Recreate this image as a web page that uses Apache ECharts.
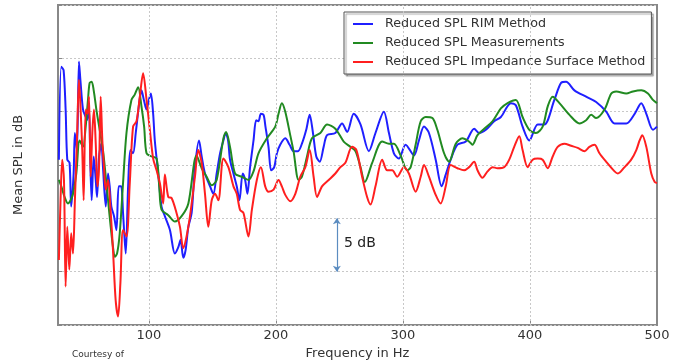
<!DOCTYPE html>
<html>
<head>
<meta charset="utf-8">
<script src="https://cdn.jsdelivr.net/npm/echarts@6/dist/echarts.min.js"></script>
<style>
  html, body { margin: 0; padding: 0; background: #fff; }
  #chart { width: 673px; height: 362px; }
</style>
</head>
<body>
<div id="chart"></div>
<script>
const seriesNames = ["Reduced SPL RIM Method", "Reduced SPL Measurements", "Reduced SPL Impedance Surface Method"];
const freqTicks = [100, 200, 300, 400, 500];
const gridFreqs = [100, 200, 300, 400];
const scaleBar = [248, 5, 10]; // freq, from dB, to dB

// RIM method (blue)
const rimFreq = [29.2, 31.1, 32.9, 34.5, 35.8, 37.6, 38.9, 40.8, 41.8, 43.4, 45.0, 46.3, 48.2, 50.3, 51.3, 52.9, 53.9, 55.0, 56.6, 58.2,
  59.2, 60.8, 62.6, 63.9, 66.1, 67.9, 69.2, 70.5, 72.6, 74.5, 76.3, 78.2, 79.7, 81.8, 83.7, 85.5, 87.6, 89.7, 92.4, 94.2,
  96.1, 98.2, 100, 101.6, 103.4, 104.7, 107.4, 110.0, 112.6, 116.6, 120.5, 123.2, 125.0, 127.1, 128.9, 131.1, 133.7, 136.3, 139.5, 141.6,
  144.2, 148.2, 150.8, 153.4, 156.1, 158.7, 160.5, 162.4, 163.9, 166.6, 169.2, 171.3, 173.9, 175.8, 177.6, 179.7, 182.4, 184.5, 186.3, 188.2,
  190.3, 191.8, 194.2, 196.3, 198.7, 200.8, 203.4, 207.4, 210.8, 214.0, 217.4, 220.5, 223.9, 226.6, 229.2, 231.8, 234.5, 237.6, 240.3, 246.8,
  252.1, 256.1, 261.3, 266.6, 273.2, 278.4, 285.0, 289.0, 292.9, 296.8, 302.1, 308.7, 312.6, 316.6, 320.5, 325.8, 330.5, 333.7, 337.6, 342.9,
  349.5, 356.1, 360.0, 365.3, 371.8, 377.1, 385.0, 388.9, 394.2, 399.5, 406.1, 411.3, 419.2, 424.5, 428.4, 435.0, 444.2, 452.1, 460.0, 466.6,
  475.8, 482.4, 487.6, 491.6, 496.8, 500];
const rimSpl = [15.5, 24.2, 23.9, 20.2, 15.5, 15.2, 11.1, 14.2, 18.0, 16.4, 24.7, 22.7, 20.2, 19.5, 19.2, 20.2, 15.5, 11.7, 15.8, 13.6,
  12.0, 15.8, 17.0, 14.8, 11.1, 14.2, 13.0, 11.1, 10.2, 8.9, 13.0, 13.0, 10.5, 6.7, 13.0, 16.4, 16.1, 18.0, 20.8, 22.0,
  21.1, 20.2, 21.1, 21.7, 19.8, 17.3, 14.2, 11.1, 10.2, 8.9, 6.7, 7.3, 8.0, 6.3, 7.0, 9.2, 10.5, 14.8, 17.3, 15.8,
  14.2, 13.0, 12.3, 14.2, 16.1, 17.3, 18.0, 17.3, 15.5, 14.2, 13.0, 11.7, 14.2, 13.6, 12.3, 14.8, 17.3, 19.2, 19.1, 19.8,
  19.7, 18.6, 16.7, 14.5, 14.8, 16.1, 16.9, 17.5, 16.9, 16.3, 16.3, 17.0, 18.3, 19.7, 18.0, 15.8, 15.3, 16.7, 17.8, 18.0,
  18.9, 18.1, 19.8, 18.8, 16.3, 18.0, 20.0, 18.0, 16.1, 15.6, 16.9, 15.9, 17.3, 18.6, 18.0, 15.5, 13.0, 14.1, 15.5, 16.9,
  17.2, 18.4, 18.0, 18.3, 19.1, 19.5, 20.8, 20.6, 18.6, 17.3, 18.8, 18.8, 21.1, 22.7, 22.8, 22.0, 21.4, 20.9, 20.0, 18.9,
  18.9, 19.8, 20.8, 19.8, 18.3, 18.6];

// Measurements (green)
const measFreq = [29.2, 31.1, 33.7, 36.3, 38.4, 40.3, 42.9, 45.5, 48.2, 50.3, 52.1, 53.4, 55.0, 56.6, 58.7, 61.3, 63.9, 66.1, 67.9, 70.0,
  71.8, 73.2, 75.0, 77.1, 79.7, 82.4, 86.3, 88.9, 91.6, 94.2, 96.3, 98.2, 102.1, 106.1, 108.2, 110.0, 115.3, 120.5, 125.8, 131.1,
  137.6, 141.6, 145.5, 149.5, 153.4, 158.7, 160.8, 163.9, 167.9, 173.2, 178.4, 182.4, 186.3, 192.9, 199.5, 202.1, 204.7, 207.4, 211.3, 213.9,
  217.9, 220.5, 224.5, 228.4, 235.0, 240.3, 246.8, 253.4, 258.7, 262.6, 266.6, 270.0, 275.8, 283.7, 289.0, 292.9, 298.2, 303.4, 306.1, 310.0,
  314.0, 317.9, 323.2, 327.1, 332.4, 336.3, 341.6, 346.8, 352.1, 354.7, 358.7, 364.0, 370.5, 377.1, 382.4, 388.9, 394.2, 399.5, 404.7, 410.0,
  414.0, 417.9, 423.2, 431.1, 439.0, 444.2, 448.2, 452.1, 458.7, 464.0, 467.9, 475.8, 481.1, 487.6, 492.9, 496.8, 500];
const measSpl = [13.6, 13.0, 12.0, 11.4, 11.7, 12.3, 14.2, 17.3, 16.7, 18.6, 21.1, 22.7, 22.8, 22.0, 20.2, 18.3, 16.4, 13.9, 11.7, 9.2,
  7.3, 6.4, 6.7, 8.6, 13.3, 18.0, 21.1, 21.6, 22.3, 20.5, 18.6, 16.1, 15.8, 15.6, 13.0, 10.8, 10.3, 9.7, 10.2, 11.4,
  15.9, 14.7, 13.9, 13.1, 13.6, 17.5, 18.1, 16.7, 14.2, 13.9, 13.6, 14.4, 16.1, 17.5, 18.6, 19.8, 20.8, 20.0, 17.8, 16.3,
  13.6, 13.9, 15.8, 17.5, 18.0, 18.8, 18.4, 17.2, 16.7, 16.3, 14.8, 13.4, 15.2, 17.2, 17.0, 17.0, 15.9, 14.5, 14.8, 16.9,
  19.1, 19.5, 19.4, 18.3, 16.1, 15.3, 17.0, 17.5, 17.2, 16.9, 17.8, 18.4, 19.1, 20.3, 20.8, 21.1, 19.5, 18.3, 18.0, 18.6,
  20.5, 21.4, 20.8, 19.7, 18.9, 19.2, 19.7, 19.4, 20.2, 21.7, 21.9, 21.7, 21.9, 22.0, 21.7, 21.1, 20.8];

// Impedance surface method (red)
const impFreq = [29.2, 30.5, 31.8, 33.2, 34.5, 35.8, 37.4, 38.9, 40.3, 41.8, 43.4, 45.0, 46.3, 47.6, 48.7, 50.3, 51.8, 52.9, 54.2, 55.5,
  56.8, 58.2, 59.5, 60.8, 62.1, 63.4, 64.7, 66.1, 67.9, 69.7, 71.8, 73.9, 75.8, 77.6, 79.7, 82.4, 85.0, 87.6, 90.3, 92.9,
  95.5, 98.2, 100.8, 103.4, 106.1, 108.7, 111.3, 112.6, 115.3, 117.9, 121.8, 124.5, 127.1, 129.7, 132.4, 136.3, 138.9, 141.6, 144.2, 146.8,
  149.5, 152.1, 154.7, 158.7, 162.6, 166.6, 169.2, 171.8, 174.5, 178.4, 181.1, 185.0, 188.2, 191.6, 194.2, 198.2, 202.1, 204.7, 207.4, 211.3,
  215.3, 219.2, 223.2, 226.6, 229.7, 232.4, 236.3, 241.6, 246.8, 250.8, 254.7, 260.0, 263.4, 267.9, 271.8, 274.5, 278.4, 283.7, 287.6, 291.6,
  295.5, 300.8, 304.7, 310.0, 314.0, 316.6, 320.5, 325.8, 329.7, 333.7, 337.6, 342.9, 348.2, 352.1, 356.1, 358.7, 362.6, 366.6, 370.5, 374.5,
  379.7, 383.7, 387.6, 391.6, 394.2, 398.2, 402.1, 406.1, 410.0, 414.0, 417.9, 421.8, 427.1, 432.4, 437.6, 442.9, 446.8, 450.8, 454.7, 460.0,
  466.6, 469.2, 474.5, 479.7, 483.7, 486.3, 488.4, 491.6, 495.5, 498.2, 500];
const impSpl = [6.1, 11.7, 15.5, 13.6, 3.6, 9.2, 5.2, 8.6, 6.7, 11.7, 17.3, 23.0, 20.2, 16.4, 11.7, 20.2, 19.8, 21.4, 13.9, 18.0,
  20.2, 17.0, 13.0, 14.8, 21.4, 17.3, 14.8, 12.7, 13.6, 11.1, 7.0, 2.3, 0.8, 3.9, 8.9, 8.3, 13.3, 18.6, 19.1, 21.4,
  23.6, 21.1, 18.3, 15.6, 14.5, 13.3, 11.4, 14.1, 12.0, 11.9, 10.5, 9.2, 7.2, 8.3, 10.2, 13.9, 16.4, 15.2, 12.3, 9.2,
  11.7, 12.3, 11.7, 15.6, 14.8, 13.0, 12.3, 10.8, 10.5, 8.3, 10.8, 13.6, 14.8, 13.0, 12.5, 12.7, 13.6, 13.0, 12.2, 11.6,
  12.3, 13.9, 14.8, 16.4, 13.9, 12.0, 13.0, 13.6, 14.2, 14.8, 15.2, 16.7, 16.4, 13.9, 12.0, 11.3, 13.0, 15.5, 14.5, 14.5,
  13.9, 14.8, 14.2, 12.5, 13.9, 15.0, 13.9, 12.2, 11.4, 13.0, 15.0, 14.7, 14.5, 14.8, 15.3, 14.5, 13.8, 14.4, 14.8, 14.7,
  14.8, 15.5, 16.7, 17.7, 16.4, 14.8, 15.5, 15.6, 15.5, 14.7, 15.8, 16.7, 17.0, 16.8, 16.6, 16.3, 16.7, 16.9, 16.1, 15.3,
  14.4, 14.2, 14.8, 15.5, 16.4, 17.3, 17.8, 16.7, 14.2, 13.4, 13.3];

const zip = (xs, ys) => xs.map((x, i) => [x, ys[i]]);
const font = "DejaVu Sans";

const chart = echarts.init(document.getElementById("chart"));
chart.setOption({
  animation: false,
  backgroundColor: "#fff",
  grid: {
    left: 58, right: 16, top: 5, bottom: 37,
    outerBoundsMode: "none", containLabel: false,
    show: true, borderColor: "#888", borderWidth: 2
  },
  legend: {
    data: seriesNames,
    orient: "vertical",
    left: 344, top: 12,
    padding: [5, 6, 5, 9],
    icon: "rect",
    itemWidth: 20, itemHeight: 2, itemGap: 5,
    backgroundColor: "#fff",
    borderColor: "#555", borderWidth: 1,
    shadowColor: "rgba(0,0,0,0.35)", shadowOffsetX: 2, shadowOffsetY: 2, shadowBlur: 1,
    textStyle: { fontFamily: font, fontSize: 12.7, lineHeight: 14, color: "#333", padding: [0, 0, 0, 7] }
  },
  xAxis: {
    type: "value", min: 28.5, max: 500,
    name: "Frequency in Hz", nameLocation: "middle", nameGap: 22,
    nameTextStyle: { fontFamily: font, fontSize: 13, color: "#333" },
    axisLine: { show: false },
    axisTick: { show: true, inside: true, length: 4, customValues: freqTicks, lineStyle: { color: "#888" } },
    axisLabel: { customValues: freqTicks, fontFamily: font, fontSize: 13, color: "#333", margin: 4 },
    splitLine: { show: false }
  },
  yAxis: {
    type: "value", min: 0, max: 30, interval: 5,
    name: "Mean SPL in dB", nameLocation: "middle", nameGap: 33,
    nameTextStyle: { fontFamily: font, fontSize: 13, color: "#333" },
    axisLine: { show: false },
    axisTick: { show: true, inside: true, length: 4, lineStyle: { color: "#888" } },
    axisLabel: { show: false },
    splitLine: { show: true, lineStyle: { color: "#c8c8c8", type: [2, 2], width: 1 } }
  },
  graphic: [
    { type: "text", left: 344, top: 236, style: { text: "5 dB", fontFamily: font, fontSize: 14, fill: "#222" } },
    { type: "text", left: 72, top: 350, style: { text: "Courtesy of", fontFamily: font, fontSize: 9, fill: "#333" } }
  ],
  series: [
    {
      name: "grid", type: "line", data: [], silent: true, z: 1,
      markLine: {
        silent: true, symbol: "none", label: { show: false },
        lineStyle: { color: "#c8c8c8", type: [2, 2], width: 1 },
        data: gridFreqs.map(f => ({ xAxis: f }))
      }
    },
    {
      name: "scale", type: "line", data: [], silent: true, z: 1,
      markLine: {
        silent: true, symbol: ["arrow", "arrow"], symbolSize: [6, 6], label: { show: false },
        lineStyle: { color: "#5b8cc0", type: "solid", width: 1.2 },
        data: [[{ coord: [scaleBar[0], scaleBar[2]] }, { coord: [scaleBar[0], scaleBar[1]] }]]
      }
    },
    {
      name: seriesNames[0], type: "line", data: zip(rimFreq, rimSpl),
      symbol: "none", smooth: 0.3, z: 3,
      lineStyle: { color: "#1f1fff", width: 2 }, itemStyle: { color: "#1f1fff" }
    },
    {
      name: seriesNames[1], type: "line", data: zip(measFreq, measSpl),
      symbol: "none", smooth: 0.3, z: 3,
      lineStyle: { color: "#218a21", width: 2 }, itemStyle: { color: "#218a21" }
    },
    {
      name: seriesNames[2], type: "line", data: zip(impFreq, impSpl),
      symbol: "none", smooth: 0.3, z: 3,
      lineStyle: { color: "#ff1f1f", width: 2 }, itemStyle: { color: "#ff1f1f" }
    }
  ]
});
</script>
</body>
</html>
